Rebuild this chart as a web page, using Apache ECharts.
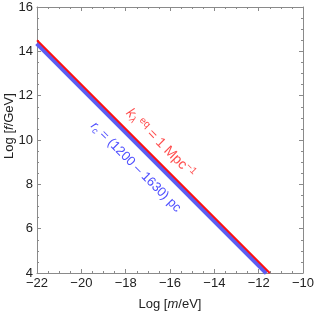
<!DOCTYPE html>
<html><head><meta charset="utf-8">
<script src="https://cdn.jsdelivr.net/npm/echarts@6/dist/echarts.min.js"></script>
<style>html,body{margin:0;padding:0;background:#fff}#c{width:315px;height:312px}</style>
</head><body><div id="c"></div>
<script>
// Data
const xTicks = [-22, -20, -18, -16, -14, -12, -10];
const yTicks = [4, 6, 8, 10, 12, 14, 16];
// k_lambda^eq = 1 Mpc^-1 line: [log m, log f]
const kLine = [[-22, 14.5], [-11.5, 4.0]];
// r_c band (1200-1630 pc): centre line
const rcLine = [[-22, 14.36], [-11.64, 4.0]];
const kLabelPos = [-16.43, 9.86];
const rcLabelPos = [-17.54, 8.78];

const chart = echarts.init(document.getElementById('c'), null, {renderer: 'canvas'});
const axisCol = '#8a8a8a';
const font = 'Liberation Sans, Arial, sans-serif';
function fmt(v){ return (v < 0 ? '\u2212' : '') + Math.abs(v); }
const common = {
  interval: 2,
  axisLine: {show: true, onZero: false, lineStyle: {color: axisCol, width: 1}},
  axisTick: {show: true, inside: true, length: 4, lineStyle: {color: axisCol}},
  minorTick: {show: true, splitNumber: 4, length: 2, lineStyle: {color: axisCol}},
  splitLine: {show: false}
};
const rich = {i: {fontStyle: 'italic', fontSize: 13, fontFamily: font, color: '#222'}};
chart.setOption({
  animation: false,
  grid: {left: 37, top: 7, right: 12, bottom: 39, containLabel: false, outerBoundsMode: 'none'},
  xAxis: [
    Object.assign({}, common, {type: 'value', min: xTicks[0], max: xTicks[xTicks.length-1], position: 'bottom',
      axisLabel: {color: '#222', fontSize: 13, fontFamily: font, margin: 4, formatter: fmt},
      name: 'Log [{i|m}/eV]', nameLocation: 'middle', nameGap: 25, nameMoveOverlap: false,
      nameTextStyle: {color: '#222', fontSize: 13, fontFamily: font, rich: rich}}),
    Object.assign({}, common, {type: 'value', min: xTicks[0], max: xTicks[xTicks.length-1], position: 'top', axisLabel: {show: false}})
  ],
  yAxis: [
    Object.assign({}, common, {type: 'value', min: yTicks[0], max: yTicks[yTicks.length-1], position: 'left',
      axisLabel: {color: '#222', fontSize: 13, fontFamily: font, margin: 4, formatter: fmt},
      name: 'Log [{i|f}/GeV]', nameLocation: 'middle', nameGap: 21, nameRotate: 90, nameMoveOverlap: false,
      nameTextStyle: {color: '#222', fontSize: 13, fontFamily: font, padding: [0, 0, 0, 28], rich: rich}}),
    Object.assign({}, common, {type: 'value', min: yTicks[0], max: yTicks[yTicks.length-1], position: 'right', axisLabel: {show: false}})
  ],
  series: [
    {type: 'line', data: rcLine, symbol: 'none', lineStyle: {color: '#5c5cf2', width: 5}, z: 2},
    {type: 'line', data: kLine, symbol: 'none', lineStyle: {color: '#ff1010', width: 2}, z: 3},
    {type: 'scatter', data: [kLabelPos], symbolSize: 0, z: 4,
      label: {show: true, position: 'inside', rotate: -45, color: '#ff2020', fontFamily: font,
        formatter: '{k|k}{s|\u03bb}{p| eq}{n| = 1 Mpc}{p|\u22121}',
        rich: {
          k: {fontSize: 14, fontStyle: 'italic', color: '#ff2020', fontFamily: font},
          s: {fontSize: 10, fontStyle: 'italic', color: '#ff2020', verticalAlign: 'bottom', padding: [7,0,0,0], fontFamily: font},
          p: {fontSize: 10, color: '#ff2020', verticalAlign: 'top', padding: [0,0,6,0], fontFamily: font},
          n: {fontSize: 14, color: '#ff2020', fontFamily: font}
        }}},
    {type: 'scatter', data: [rcLabelPos], symbolSize: 0, z: 4,
      label: {show: true, position: 'inside', rotate: -45, color: '#2020ff', fontFamily: font,
        formatter: '{r|r}{s|c}{n| = (1200 \u2013 1630) pc}',
        rich: {
          r: {fontSize: 13, fontStyle: 'italic', color: '#2020ff', fontFamily: font},
          s: {fontSize: 9, fontStyle: 'italic', color: '#2020ff', verticalAlign: 'bottom', padding: [7,0,0,0], fontFamily: font},
          n: {fontSize: 13, color: '#2020ff', fontFamily: font}
        }}}
  ]
});
</script></body></html>
